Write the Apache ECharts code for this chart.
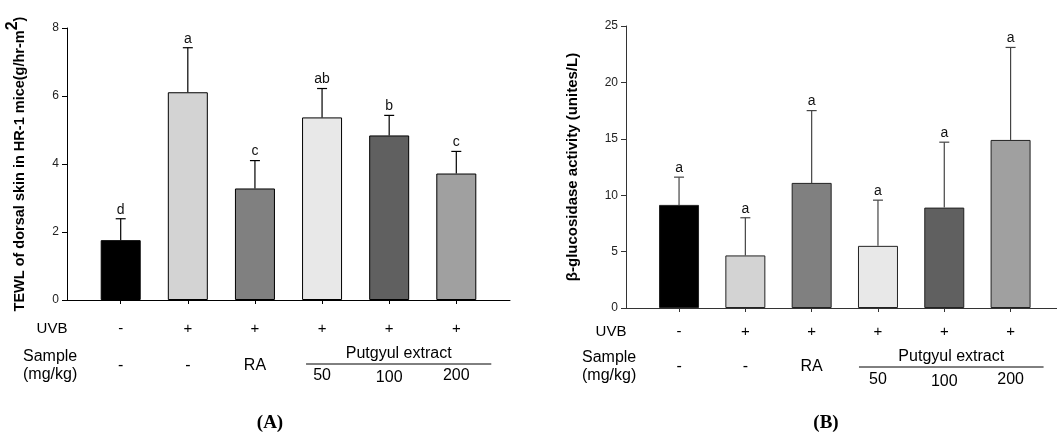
<!DOCTYPE html>
<html>
<head>
<meta charset="utf-8">
<script src="https://cdn.jsdelivr.net/npm/echarts@6/dist/echarts.min.js"></script>
<style>html,body{margin:0;padding:0;background:#fff}#c{width:1057px;height:434px}</style>
</head>
<body>
<div id="c"></div>
<script>
// ---- data ----
const categories = ['Control', 'UVB', 'UVB+RA', 'UVB+P50', 'UVB+P100', 'UVB+P200'];
const tewlMean = [1.76, 6.11, 3.28, 5.37, 4.84, 3.72];
const tewlErr = [0.63, 1.31, 0.82, 0.85, 0.59, 0.65];
const tewlLetters = ['d', 'a', 'c', 'ab', 'b', 'c'];
const glucMean = [9.14, 4.66, 11.09, 5.51, 8.90, 14.90];
const glucErr = [2.46, 3.34, 6.41, 4.05, 5.80, 8.20];
const glucLetters = ['a', 'a', 'a', 'a', 'a', 'a'];
const uvbRow = ['-', '+', '+', '+', '+', '+'];
const sampleRow = ['-', '-', 'RA', '50', '100', '200'];
const sampleGroup = 'Putgyul extract';
const tewlTicks = [0, 2, 4, 6, 8];
const glucTicks = [0, 5, 10, 15, 20, 25];
const barColors = ['#000000', '#d3d3d3', '#808080', '#e8e8e8', '#606060', '#a0a0a0'];

const FONT = '"Liberation Sans", Arial, Helvetica, sans-serif';
const idx = categories.map((c, i) => i);

function barSeries(ax, means, border) {
  return {
    type: 'bar', xAxisIndex: ax, yAxisIndex: ax, barWidth: 40,
    data: means.map((v, i) => [idx[i], v]),
    itemStyle: { color: p => barColors[p.dataIndex], borderColor: border, borderWidth: 1 },
    z: 2
  };
}
function errSeries(ax, means, errs, letters, stroke) {
  return {
    type: 'custom', xAxisIndex: ax, yAxisIndex: ax, z: 3,
    data: means.map((v, i) => [idx[i], v, errs[i]]),
    renderItem: (params, api) => {
      const base = api.coord([api.value(0), api.value(1)]);
      const top = api.coord([api.value(0), api.value(1) + api.value(2)]);
      const st = { stroke: stroke, lineWidth: 1.2 };
      return {
        type: 'group', children: [
          { type: 'line', shape: { x1: base[0], y1: base[1], x2: top[0], y2: top[1] }, style: st },
          { type: 'line', shape: { x1: top[0] - 5, y1: top[1], x2: top[0] + 5, y2: top[1] }, style: st },
          { type: 'text', style: { text: letters[params.dataIndex], x: top[0], y: top[1] - 2,
              align: 'center', verticalAlign: 'bottom', textAlign: 'center', textVerticalAlign: 'bottom',
              font: '14px ' + FONT, fill: '#111' } }
        ]
      };
    }
  };
}
function xAxisDef(grid, max, color) {
  return {
    type: 'value', gridIndex: grid, min: -0.8, max: max,
    axisLine: { show: true, onZero: false, lineStyle: { color: color, width: 1 } },
    axisTick: { show: true, customValues: idx, length: 4, lineStyle: { color: color } },
    axisLabel: { show: false }, splitLine: { show: false }
  };
}
function yAxisDef(grid, ticks, name, gap, color, fs, rich) {
  return {
    type: 'value', gridIndex: grid, min: ticks[0], max: ticks[ticks.length - 1],
    interval: ticks[1] - ticks[0],
    name: name, nameLocation: 'middle', nameRotate: 90, nameGap: gap,
    nameTextStyle: { fontFamily: FONT, fontWeight: 'bold', fontSize: fs, color: '#000', rich: rich },
    axisLine: { show: true, onZero: false, lineStyle: { color: color, width: 1 } },
    axisTick: { show: true, length: 5, lineStyle: { color: color } },
    axisLabel: { fontFamily: FONT, fontSize: 12, color: '#222', margin: 8 },
    splitLine: { show: false }
  };
}

const chart = echarts.init(document.getElementById('c'), null, { renderer: 'canvas' });
const richA = {
  t: { fontFamily: FONT, fontWeight: 'bold', fontSize: 14.5, color: '#000', verticalAlign: 'bottom', lineHeight: 22 },
  s: { fontFamily: FONT, fontWeight: 'bold', fontSize: 16, color: '#000', verticalAlign: 'top', lineHeight: 22 }
};
chart.setOption({
  animation: false,
  grid: [
    { left: 67, right: 547, top: 28, bottom: 134 },
    { left: 626, right: 0, top: 26, bottom: 126 }
  ],
  xAxis: [xAxisDef(0, 5.8, '#000'), xAxisDef(1, 5.7, '#333')],
  yAxis: [
    yAxisDef(0, tewlTicks, '{t|TEWL of dorsal skin in HR-1 mice(g/hr-m}{s|2}{t|)}', 40, '#000', 14.5, richA),
    yAxisDef(1, glucTicks, 'β-glucosidase activity (unites/L)', 46, '#333', 15, null)
  ],
  series: [
    barSeries(0, tewlMean, '#000'),
    errSeries(0, tewlMean, tewlErr, tewlLetters, '#000'),
    barSeries(1, glucMean, '#222'),
    errSeries(1, glucMean, glucErr, glucLetters, '#444')
  ]
});

// ---- table beneath each chart, positioned with the axes' own scales ----
const UF = '15px ' + FONT;
const SF = '16px ' + FONT;
function txt(text, x, y, align, font) {
  return { type: 'text', silent: true, style: { text: text, x: x, y: y,
    align: align || 'center', verticalAlign: 'middle', textAlign: align || 'center', textVerticalAlign: 'middle',
    font: font || SF, fill: '#000' } };
}
const graphics = [];
[[0, 29, 66, 76, 55, -16, 35, 'A', 270], [1, 24, 59, 72, 50, -19, 33, 'B', 826]].forEach(cfg => {
  const [ax, uvbDy, sDy, numDy, grpDy, lineL, lineR, tag, tagX] = cfg;
  const y0 = chart.convertToPixel({ yAxisIndex: ax }, 0);
  const yAxisX = chart.convertToPixel({ xAxisIndex: ax }, -0.8);
  const xs = idx.map(i => chart.convertToPixel({ xAxisIndex: ax }, i));
  graphics.push(txt('UVB', yAxisX - 15, y0 + uvbDy, 'center', UF));
  graphics.push(txt('Sample', yAxisX - 44, y0 + sDy - 9.5, 'left'));
  graphics.push(txt('(mg/kg)', yAxisX - 44, y0 + sDy + 9, 'left'));
  xs.forEach((x, i) => {
    graphics.push(txt(uvbRow[i], x, y0 + uvbDy, 'center', UF));
    graphics.push(txt(sampleRow[i], x, y0 + (i >= 3 ? numDy + (i === 4 ? 2 : 0) : sDy)));
  });
  const l = xs[3] + lineL, r = xs[5] + lineR;
  graphics.push(txt(sampleGroup, (l + r) / 2, y0 + grpDy - 1));
  graphics.push({ type: 'line', silent: true, shape: { x1: l, y1: y0 + grpDy + 9, x2: r, y2: y0 + grpDy + 9 },
    style: { stroke: '#000', lineWidth: 1 } });
  graphics.push(txt('(' + tag + ')', tagX, 423, 'center', 'bold 19px "Liberation Serif", "Times New Roman", serif'));
});
chart.setOption({ graphic: graphics });
</script>
</body>
</html>
